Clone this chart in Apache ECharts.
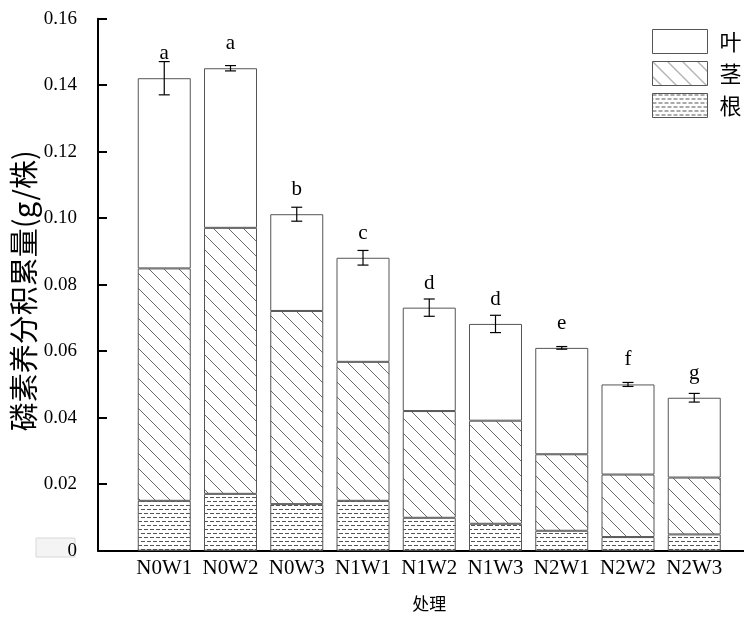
<!DOCTYPE html>
<html><head><meta charset="utf-8">
<script src="https://cdn.jsdelivr.net/npm/echarts@6/dist/echarts.min.js"></script>
<style>html,body{margin:0;padding:0;background:#fff}#c{width:744px;height:617px}</style>
</head><body><div id="c"></div>
<script>
const categories = ['N0W1','N0W2','N0W3','N1W1','N1W2','N1W3','N2W1','N2W2','N2W3'];
const rootValues = [0.0150,0.0171,0.0140,0.0150,0.0099,0.0081,0.0060,0.0041,0.0049];
const stemValues = [0.0699,0.0800,0.0581,0.0418,0.0321,0.0310,0.0230,0.0188,0.0171];
const leafValues = [0.0572,0.0480,0.0291,0.0313,0.0311,0.0291,0.0320,0.0271,0.0240];
const errorValues = [0.0050,0.0008,0.0021,0.0022,0.0026,0.0026,0.0004,0.0006,0.0013];
const letters = ['a','a','b','c','d','d','e','f','g'];
const yTicks = {min:0, max:0.16, interval:0.02};

function hatchCanvas(){
  const c=document.createElement('canvas'); c.width=15; c.height=15;
  const g=c.getContext('2d'); g.fillStyle='#fff'; g.fillRect(0,0,15,15);
  g.strokeStyle='#6a6a6a'; g.lineWidth=1; g.beginPath();
  g.moveTo(-2,-2); g.lineTo(17,17);
  g.moveTo(-2,13); g.lineTo(2,17);
  g.moveTo(13,-2); g.lineTo(17,2);
  g.stroke(); return c;
}
function dashCanvas(){
  const c=document.createElement('canvas'); c.width=12; c.height=8;
  const g=c.getContext('2d'); g.fillStyle='#fff'; g.fillRect(0,0,12,8);
  g.fillStyle='#555';
  g.fillRect(0,1,4,1); g.fillRect(6,1,4,1);
  g.fillRect(3,5,4,1); g.fillRect(9,5,3,1); g.fillRect(0,5,1,1);
  return c;
}
const pad = a => ['-', ...a, '-'];
const totals = categories.map((c,i)=>rootValues[i]+stemValues[i]+leafValues[i]);
const errData = categories.map((c,i)=>[i+1, totals[i], errorValues[i]]);

const serif = 'Liberation Serif, Times New Roman, serif';
const cjk = 'Noto Sans CJK SC';
const border = {borderColor:'#555', borderWidth:1};

const chart = echarts.init(document.getElementById('c'));
chart.setOption({
  animation:false,
  backgroundColor:'#fff',
  grid:{left:98, top:18.7, width:662.5, height:532, containLabel:false, outerBoundsMode:'none'},
  legend:{
    data:['叶','茎','根'], orient:'vertical', left:652, top:29, padding:0,
    itemWidth:55, itemHeight:24, itemGap:7, icon:'rect', selectedMode:false,
    itemStyle:{borderColor:'#555', borderWidth:1},
    textStyle:{fontSize:22, fontFamily:cjk, color:'#000', padding:[0,0,0,7]}
  },
  xAxis:{
    type:'category', data:['',...categories,''], boundaryGap:false,
    axisLine:{lineStyle:{color:'#000', width:2}},
    axisTick:{inside:true, length:6, lineStyle:{color:'#000', width:2}},
    axisLabel:{interval:0, fontSize:21, fontFamily:serif, color:'#000', margin:7},
    name:'处理', nameLocation:'middle', nameGap:44,
    nameTextStyle:{fontSize:17, fontFamily:cjk, color:'#000'},
    splitLine:{show:false}
  },
  yAxis:{
    type:'value', min:yTicks.min, max:yTicks.max, interval:yTicks.interval,
    axisLine:{show:true, lineStyle:{color:'#000', width:2}},
    axisTick:{show:true, inside:true, length:9, lineStyle:{color:'#000', width:2}},
    axisLabel:{fontSize:19, fontFamily:serif, color:'#000', margin:21,
      formatter:v=> v===0 ? '0' : v.toFixed(2)},
    splitLine:{show:false},
    name:'磷素养分积累量(g/株)', nameLocation:'middle', nameRotate:90, nameGap:60,
    nameMoveOverlap:false,
    nameTextStyle:{fontSize:29, fontFamily:cjk, color:'#000', padding:[0,12,0,0]}
  },
  graphic:[{type:'rect', shape:{x:36, y:538, width:39, height:19},
    style:{fill:'#f4f4f4', stroke:'#d8d8d8', lineWidth:1}}],
  series:[
    {name:'根', type:'bar', stack:'t', barWidth:53, data:pad(rootValues),
      itemStyle:Object.assign({color:{image:dashCanvas(), repeat:'repeat'}}, border)},
    {name:'茎', type:'bar', stack:'t', barWidth:53, data:pad(stemValues),
      itemStyle:Object.assign({color:{image:hatchCanvas(), repeat:'repeat'}}, border)},
    {name:'叶', type:'bar', stack:'t', barWidth:53, data:pad(leafValues),
      itemStyle:Object.assign({color:'#fff'}, border),
      label:{show:true, position:'top', distance:14, fontSize:21, fontFamily:serif, color:'#000',
        formatter:p=> letters[p.dataIndex-1] || ''}},
    {name:'err', type:'custom', data:errData, z:10,
      renderItem:(params, api)=>{
        const x=api.value(0), t=api.value(1), e=api.value(2);
        const hi=api.coord([x,t+e]), lo=api.coord([x,t-e]); const w=5.5;
        const st={stroke:'#000', lineWidth:1.2};
        return {type:'group', children:[
          {type:'line', shape:{x1:hi[0],y1:hi[1],x2:lo[0],y2:lo[1]}, style:st},
          {type:'line', shape:{x1:hi[0]-w,y1:hi[1],x2:hi[0]+w,y2:hi[1]}, style:st},
          {type:'line', shape:{x1:lo[0]-w,y1:lo[1],x2:lo[0]+w,y2:lo[1]}, style:st}
        ]};
      }}
  ]
});
</script></body></html>
